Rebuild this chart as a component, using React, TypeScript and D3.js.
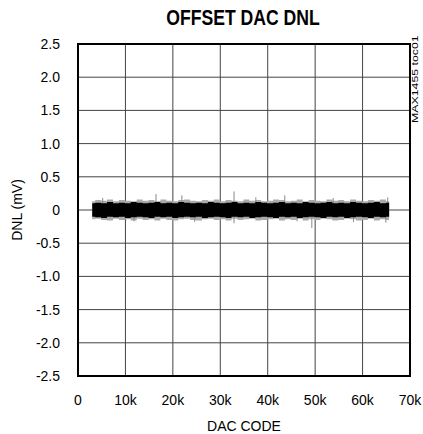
import * as d3 from 'd3'

// x ticks (DAC code) and y ticks (mV)
const xTicks = [0, 10000, 20000, 30000, 40000, 50000, 60000, 70000]
const xTickLabels = ['0', '10k', '20k', '30k', '40k', '50k', '60k', '70k']
const yTicks = [2.5, 2.0, 1.5, 1.0, 0.5, 0, -0.5, -1.0, -1.5, -2.0, -2.5]
const yTickLabels = ['2.5', '2.0', '1.5', '1.0', '0.5', '0', '-0.5', '-1.0', '-1.5', '-2.0', '-2.5']

// envelope of the dense DNL band, read every 1.25k codes (mV)
const bandCodes = [3000, 4250, 5500, 6750, 8000, 9250, 10500, 11750, 13000, 14250, 15500, 16750, 18000,
  19250, 20500, 21750, 23000, 24250, 25500, 26750, 28000, 29250, 30500, 31750, 33000, 34250,
  35500, 36750, 38000, 39250, 40500, 41750, 43000, 44250, 45500, 46750, 48000, 49250, 50500,
  51750, 53000, 54250, 55500, 56750, 58000, 59250, 60500, 61750, 63000, 64250, 65600]
const bandUpper = [0.10, 0.11, 0.10, 0.12, 0.10, 0.11, 0.10, 0.12, 0.11, 0.10, 0.11, 0.12, 0.10,
  0.11, 0.10, 0.12, 0.11, 0.10, 0.11, 0.10, 0.12, 0.11, 0.10, 0.11, 0.12, 0.10,
  0.11, 0.10, 0.12, 0.11, 0.10, 0.11, 0.12, 0.10, 0.11, 0.10, 0.12, 0.11, 0.10,
  0.11, 0.12, 0.10, 0.11, 0.10, 0.12, 0.11, 0.10, 0.11, 0.12, 0.10, 0.11]
const bandLower = [-0.10, -0.11, -0.12, -0.10, -0.11, -0.10, -0.12, -0.11, -0.10, -0.11, -0.12, -0.10, -0.11,
  -0.10, -0.12, -0.11, -0.10, -0.11, -0.10, -0.12, -0.11, -0.10, -0.11, -0.12, -0.10, -0.11,
  -0.10, -0.12, -0.11, -0.10, -0.11, -0.12, -0.10, -0.11, -0.10, -0.12, -0.11, -0.10, -0.11,
  -0.12, -0.10, -0.11, -0.10, -0.12, -0.11, -0.10, -0.11, -0.12, -0.10, -0.11, -0.10]
const fringeUpper = [0.13, 0.15, 0.14, 0.16, 0.13, 0.15, 0.14, 0.13, 0.16, 0.14, 0.15, 0.13, 0.16,
  0.14, 0.13, 0.15, 0.16, 0.14, 0.13, 0.15, 0.14, 0.16, 0.13, 0.15, 0.14, 0.13,
  0.16, 0.14, 0.15, 0.13, 0.14, 0.16, 0.15, 0.13, 0.14, 0.16, 0.13, 0.15, 0.14,
  0.13, 0.16, 0.14, 0.15, 0.13, 0.16, 0.14, 0.13, 0.15, 0.14, 0.16, 0.13]
const fringeLower = [-0.14, -0.13, -0.15, -0.16, -0.13, -0.15, -0.14, -0.16, -0.13, -0.15, -0.14, -0.16, -0.13,
  -0.15, -0.16, -0.14, -0.13, -0.15, -0.16, -0.14, -0.13, -0.15, -0.14, -0.16, -0.13, -0.15,
  -0.14, -0.13, -0.16, -0.15, -0.14, -0.13, -0.16, -0.14, -0.15, -0.13, -0.16, -0.14, -0.15,
  -0.13, -0.14, -0.16, -0.15, -0.13, -0.14, -0.16, -0.15, -0.13, -0.16, -0.14, -0.15]

// isolated spikes that stick out of the band
const spikeCodes = [5200, 11800, 16450, 21900, 24600, 32900, 32900, 37500, 43600, 46200, 49300, 53800, 58100, 64900, 65300]
const spikeValues = [0.18, -0.17, 0.24, 0.22, -0.18, 0.28, -0.20, 0.19, 0.22, -0.17, -0.27, 0.18, -0.18, -0.19, 0.19]

const W = 423
const H = 434
const margin = { top: 44, right: 13, bottom: 58, left: 78 }
const font = "'Liberation Sans', Arial, sans-serif"

const App = () => {
  const innerW = W - margin.left - margin.right
  const innerH = H - margin.top - margin.bottom

  const x = d3.scaleLinear().domain([0, 70000]).range([margin.left, margin.left + innerW])
  const y = d3.scaleLinear().domain([-2.5, 2.5]).range([margin.top + innerH, margin.top])

  const pts = bandCodes.map((c, i) => ({ c, hi: bandUpper[i], lo: bandLower[i], fhi: fringeUpper[i], flo: fringeLower[i] }))
  const core = d3.area<any>().x(d => x(d.c)).y0(d => y(d.lo)).y1(d => y(d.hi)).curve(d3.curveStep)
  const fringe = d3.area<any>().x(d => x(d.c)).y0(d => y(d.flo)).y1(d => y(d.fhi)).curve(d3.curveStep)

  return (
    <svg width={W} height={H} style={{ position: 'absolute', left: 0, top: 0 }}>
      <rect width={W} height={H} fill='#fff' />
      <text transform='translate(243,25) scale(0.8,1)' textAnchor='middle' fontFamily={font} fontWeight='bold' fontSize={22}>OFFSET DAC DNL</text>

      {/* grid */}
      {xTicks.slice(1, -1).map(t => (
        <line key={'gx' + t} x1={x(t)} x2={x(t)} y1={y(2.5)} y2={y(-2.5)} stroke='#444' strokeWidth={1} />
      ))}
      {yTicks.slice(1, -1).map(t => (
        <line key={'gy' + t} x1={x(0)} x2={x(70000)} y1={y(t)} y2={y(t)} stroke='#444' strokeWidth={1} />
      ))}

      {/* data */}
      <path d={fringe(pts) || ''} fill='#aaa' />
      {spikeCodes.map((c, i) => (
        <line key={'s' + i} x1={x(c)} x2={x(c)} y1={y(0)} y2={y(spikeValues[i])} stroke='#888' strokeWidth={1} />
      ))}
      <path d={core(pts) || ''} fill='#000' />

      <rect x={x(0)} y={y(2.5)} width={innerW} height={innerH} fill='none' stroke='#000' strokeWidth={2} />

      {yTicks.map((t, i) => (
        <text key={'yl' + t} x={60} y={y(t) + 5} textAnchor='end' fontFamily={font} fontSize={14}>{yTickLabels[i]}</text>
      ))}
      {xTicks.map((t, i) => (
        <text key={'xl' + t} x={x(t)} y={405} textAnchor='middle' fontFamily={font} fontSize={14}>{xTickLabels[i]}</text>
      ))}
      <text x={244} y={431} textAnchor='middle' fontFamily={font} fontSize={14}>DAC CODE</text>
      <text transform={`translate(22,${y(0)}) rotate(-90)`} textAnchor='middle' fontFamily={font} fontSize={14}>DNL (mV)</text>
      <text transform='translate(418,123) rotate(-90) scale(1.45,1)' textAnchor='start' fontFamily={font} fontSize={8.5}>MAX1455 toc01</text>
    </svg>
  )
}

export default App
